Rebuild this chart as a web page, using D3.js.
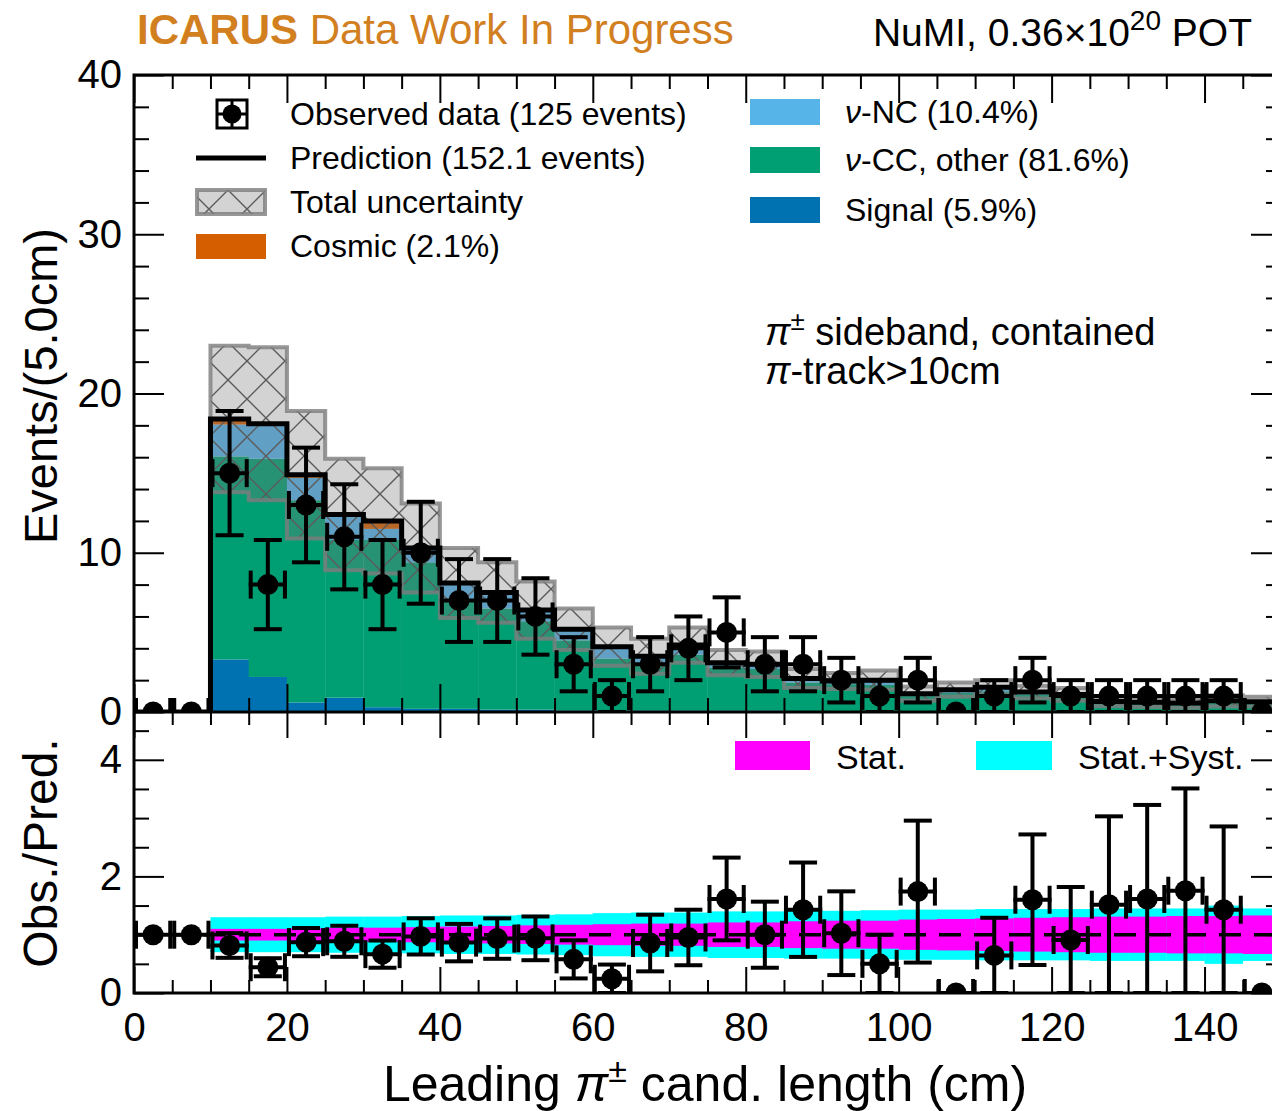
<!DOCTYPE html>
<html>
<head>
<meta charset="utf-8">
<script src="https://cdn.jsdelivr.net/npm/d3@7"></script>
<style>
body { margin: 0; background: #fff; }
text { font-family: "Liberation Sans", Arial, Helvetica, sans-serif; }
</style>
</head>
<body>
<div id="chart"></div>
<script>
// bins of 5 cm
const binEdges = [0,5,10,15,20,25,30,35,40,45,50,55,60,65,70,75,80,85,90,95,100,105,110,115,120,125,130,135,140,145,150];

const observed = [0,0,15,8,13,11,8,10,7,7,6,3,1,3,4,5,3,3,2,1,2,0,1,2,1,1,1,1,1,0];
const obsErr   = [0,0,3.9,2.8,3.6,3.3,2.8,3.2,2.6,2.6,2.4,1.7,1,1.7,2,2.2,1.7,1.7,1.4,1,1.4,0,1,1.4,1,1,1,1,1,0];

// stacked prediction components (events per bin)
const signal  = [0,0,3.3,2.2,0.6,0.9,0.3,0.2,0.2,0.15,0.15,0.1,0.1,0.1,0.1,0.1,0.1,0.05,0.05,0.05,0.05,0.05,0.05,0.05,0.05,0.05,0.05,0.05,0.05,0.05];
const ccOther = [0,0,12.75,13.7,12.7,9.9,10.5,9.2,6.85,6.35,5.55,4.4,3.25,2.9,3.5,2.7,2.6,1.8,1.7,1.65,0.95,1.15,1.25,1.05,0.9,0.53,0.49,0.45,0.57,0.52];
const nc      = [0,0,2.0,2.2,1.4,1.6,0.7,0.9,1.0,1.0,0.6,0.7,0.7,0.5,0.5,0.3,0.3,0.2,0.2,0.3,0.15,0.2,0.2,0.15,0.15,0.08,0.08,0.07,0.08,0.08];
const cosmic  = [0,0,0.35,0,0.2,0,0.5,0,0.05,0,0.1,0,0.05,0,0.1,0,0,0.05,0,0,0,0,0.05,0,0,0,0,0,0,0];

// total uncertainty on the prediction (+/- events)
const totUnc  = [0,0,4.6,4.8,4.0,3.5,3.3,2.8,2.2,1.9,1.8,1.3,1.2,1.1,1.1,0.8,0.8,0.6,0.5,0.6,0.45,0.45,0.45,0.4,0.4,0.3,0.3,0.3,0.35,0.3];

// ratio panel bands (relative half widths)
const statRel = [0,0,0.10,0.10,0.11,0.12,0.12,0.13,0.14,0.15,0.16,0.17,0.18,0.19,0.19,0.21,0.21,0.23,0.24,0.24,0.26,0.27,0.28,0.29,0.30,0.31,0.31,0.32,0.32,0.33];
const totRel  = [0,0,0.30,0.30,0.30,0.31,0.31,0.32,0.33,0.33,0.34,0.35,0.37,0.38,0.38,0.40,0.40,0.41,0.41,0.42,0.43,0.43,0.44,0.44,0.44,0.45,0.45,0.45,0.5,0.45];

const yTicksTop = [0,10,20,30,40];
const yTicksRatio = [0,2,4];
const xTicks = [0,20,40,60,80,100,120,140];

const colors = { signal: '#0072B2', ccOther: '#009E73', nc: '#56B4E9', cosmic: '#D55E00' };

const w = 1272, h = 1111;
const svg = d3.select('#chart').append('svg')
              .attr('width', w)
              .attr('height', h);

const pLeft = 134, pRight = 1281, pTop = 75, pMid = 712, pBottom = 993;

const x = d3.scaleLinear().domain([0, 150]).range([pLeft, pRight]);
const y = d3.scaleLinear().domain([0, 40]).range([pMid, pTop]);
const yr = d3.scaleLinear().domain([0, 4.82]).range([pBottom, pMid]);

const nb = observed.length;
const bins = d3.range(nb).map(i => ({
    i: i,
    lo: binEdges[i],
    hi: binEdges[i + 1],
    c: (binEdges[i] + binEdges[i + 1]) / 2,
    signal: signal[i], ccOther: ccOther[i], nc: nc[i], cosmic: cosmic[i],
    obs: observed[i], err: obsErr[i]
}));
bins.forEach(b => { b.total = b.signal + b.ccOther + b.nc + b.cosmic; });

const defs = svg.append('defs');
defs.append('clipPath').attr('id', 'clipTop')
    .append('rect').attr('x', pLeft).attr('y', pTop).attr('width', pRight - pLeft).attr('height', pMid - pTop);
defs.append('clipPath').attr('id', 'clipBot')
    .append('rect').attr('x', pLeft).attr('y', pMid).attr('width', pRight - pLeft).attr('height', pBottom - pMid);
defs.append('pattern').attr('id', 'hatch')
    .attr('patternUnits', 'userSpaceOnUse')
    .attr('width', 38).attr('height', 38)
    .append('path')
    .attr('d', 'M0,0L38,38M38,0L0,38M-2,2L2,-2M36,40L40,36')
    .attr('stroke', '#5a5a5a').attr('stroke-width', 1.4);

// ---------------- top panel ----------------
const gTop = svg.append('g').attr('clip-path', 'url(#clipTop)');

const keys = ['signal', 'ccOther', 'nc', 'cosmic'];
const stacked = d3.stack().keys(keys)(bins);
stacked.forEach(layer => {
    gTop.selectAll(null)
        .data(layer)
        .enter()
        .append('rect')
        .attr('x', d => x(d.data.lo))
        .attr('width', d => x(d.data.hi) - x(d.data.lo) + 0.3)
        .attr('y', d => y(d[1]))
        .attr('height', d => Math.max(0, y(d[0]) - y(d[1])))
        .style('fill', colors[layer.key]);
});

// uncertainty band as step polygon
const bandBins = bins.filter(b => b.total > 0);
const bandPts = [];
bandBins.forEach(b => { bandPts.push([x(b.lo), y(b.total + totUnc[b.i])], [x(b.hi), y(b.total + totUnc[b.i])]); });
bandBins.slice().reverse().forEach(b => { bandPts.push([x(b.hi), y(b.total - totUnc[b.i])], [x(b.lo), y(b.total - totUnc[b.i])]); });
const poly = d3.line()(bandPts) + 'Z';
gTop.append('path').attr('d', poly).style('fill', 'rgba(120,120,120,0.33)');
gTop.append('path').attr('d', poly).style('fill', 'url(#hatch)');
gTop.append('path').attr('d', poly).style('fill', 'none')
    .style('stroke', 'rgba(125,125,125,0.8)').style('stroke-width', 4);

// prediction line
const predPts = [[x(0), y(0)]];
bins.forEach(b => { predPts.push([x(b.lo), y(b.total)], [x(b.hi), y(b.total)]); });
gTop.append('path').attr('d', d3.line()(predPts))
    .style('fill', 'none').style('stroke', '#000').style('stroke-width', 5)
    .style('stroke-linejoin', 'miter');

function drawPoints(g, data, yScale, valFn, errFn) {
    const cap = 14;
    data.forEach(b => {
        const cx = x(b.c), cy = yScale(valFn(b)), e = errFn(b);
        const gp = g.append('g').style('stroke', '#000').style('stroke-width', 4);
        // horizontal bar with end caps
        gp.append('line').attr('x1', x(b.lo)).attr('x2', x(b.hi)).attr('y1', cy).attr('y2', cy);
        gp.append('line').attr('x1', x(b.lo) + 2).attr('x2', x(b.lo) + 2).attr('y1', cy - cap).attr('y2', cy + cap);
        gp.append('line').attr('x1', x(b.hi) - 2).attr('x2', x(b.hi) - 2).attr('y1', cy - cap).attr('y2', cy + cap);
        if (e > 0) {
            const y1 = yScale(valFn(b) - e), y2 = yScale(valFn(b) + e);
            gp.append('line').attr('x1', cx).attr('x2', cx).attr('y1', y1).attr('y2', y2);
            gp.append('line').attr('x1', cx - cap).attr('x2', cx + cap).attr('y1', y1).attr('y2', y1);
            gp.append('line').attr('x1', cx - cap).attr('x2', cx + cap).attr('y1', y2).attr('y2', y2);
        }
        g.append('circle').attr('cx', cx).attr('cy', cy).attr('r', 10.5).style('fill', '#000');
    });
}
drawPoints(gTop, bins, y, b => b.obs, b => b.err);

// ---------------- ratio panel ----------------
const gBot = svg.append('g').attr('clip-path', 'url(#clipBot)');
const ratioBins = bins.filter(b => b.total > 0);
gBot.selectAll('rect.tot')
    .data(ratioBins)
    .enter()
    .append('rect')
    .attr('class', 'tot')
    .attr('x', d => x(d.lo))
    .attr('width', d => x(d.hi) - x(d.lo) + 0.3)
    .attr('y', d => yr(1 + totRel[d.i]))
    .attr('height', d => yr(1 - totRel[d.i]) - yr(1 + totRel[d.i]))
    .style('fill', '#00FFFF');
gBot.selectAll('rect.stat')
    .data(ratioBins)
    .enter()
    .append('rect')
    .attr('class', 'stat')
    .attr('x', d => x(d.lo))
    .attr('width', d => x(d.hi) - x(d.lo) + 0.3)
    .attr('y', d => yr(1 + statRel[d.i]))
    .attr('height', d => yr(1 - statRel[d.i]) - yr(1 + statRel[d.i]))
    .style('fill', '#FF00FF');
gBot.append('line')
    .attr('x1', x(0)).attr('x2', x(150)).attr('y1', yr(1)).attr('y2', yr(1))
    .style('stroke', '#000').style('stroke-width', 3.5).style('stroke-dasharray', '22,13');

drawPoints(gBot, bins, yr,
    b => b.total > 0 ? b.obs / b.total : 1,
    b => b.total > 0 ? b.err / b.total : 0);

// ---------------- axes & frames ----------------
function styleAxis(g) {
    g.select('.domain').remove();
    g.selectAll('.tick line').style('stroke', '#000').style('stroke-width', 2);
    g.selectAll('.tick text').style('font-size', '40px').style('fill', '#000')
        .style('font-family', '"Liberation Sans", Arial, sans-serif');
}
const minorX = d3.range(0, 151, 5);
[[pMid, 'bottom'], [pTop, 'top'], [pMid, 'top2'], [pBottom, 'bottom2']].forEach(([yy, kind]) => {
    const up = (kind === 'bottom' || kind === 'bottom2');
    const ax = up ? d3.axisBottom : d3.axisTop;
    const len = kind === 'bottom2' || kind === 'top2' ? 26 : 28;
    svg.append('g').attr('transform', `translate(0,${yy})`)
       .call(ax(x).tickValues(minorX.filter(v => v % 20 !== 0)).tickSizeInner(-len / 2).tickSizeOuter(0).tickFormat(''))
       .call(styleAxis);
    svg.append('g').attr('transform', `translate(0,${yy})`)
       .call(ax(x).tickValues(xTicks).tickSizeInner(-len).tickSizeOuter(0).tickPadding(20)
                 .tickFormat(kind === 'bottom2' ? d3.format('d') : ''))
       .call(styleAxis);
});

function yAxes(scale, majors, minors) {
    [[pLeft, d3.axisLeft, true], [pRight, d3.axisRight, false]].forEach(([xx, ax, lab]) => {
        svg.append('g').attr('transform', `translate(${xx},0)`)
           .call(ax(scale).tickValues(minors).tickSizeInner(-15).tickSizeOuter(0).tickFormat(''))
           .call(styleAxis);
        svg.append('g').attr('transform', `translate(${xx},0)`)
           .call(ax(scale).tickValues(majors).tickSizeInner(-30).tickSizeOuter(0).tickPadding(12)
                    .tickFormat(lab ? d3.format('d') : ''))
           .call(styleAxis);
    });
}
yAxes(y, yTicksTop, d3.range(0, 41, 2).filter(v => v % 10 !== 0));
yAxes(yr, yTicksRatio, [0.5, 1, 1.5, 2.5, 3, 3.5, 4.5]);

svg.append('rect').attr('x', pLeft).attr('y', pTop).attr('width', pRight - pLeft).attr('height', pBottom - pTop)
   .style('fill', 'none').style('stroke', '#000').style('stroke-width', 3);
svg.append('line').attr('x1', pLeft).attr('x2', pRight).attr('y1', pMid).attr('y2', pMid)
   .style('stroke', '#000').style('stroke-width', 3);

// ---------------- legends ----------------
function legText(xx, yy, str, size) {
    return svg.append('text').attr('x', xx).attr('y', yy).attr('dy', '0.35em')
              .style('font-size', size || '32px').style('fill', '#000').text(str);
}
// data marker
const lm = svg.append('g').style('stroke', '#000').style('stroke-width', 3);
lm.append('rect').attr('x', 217).attr('y', 100).attr('width', 30).attr('height', 28).style('fill', 'none');
lm.append('line').attr('x1', 232).attr('x2', 232).attr('y1', 100).attr('y2', 128);
lm.append('line').attr('x1', 217).attr('x2', 247).attr('y1', 114).attr('y2', 114);
svg.append('circle').attr('cx', 232).attr('cy', 114).attr('r', 9.5).style('fill', '#000');
legText(290, 114, 'Observed data (125 events)');

svg.append('line').attr('x1', 196).attr('x2', 266).attr('y1', 158).attr('y2', 158)
   .style('stroke', '#000').style('stroke-width', 5);
legText(290, 158, 'Prediction (152.1 events)');

['rgba(120,120,120,0.33)', 'url(#hatch)'].forEach(f => {
    svg.append('rect').attr('x', 197).attr('y', 190).attr('width', 68).attr('height', 24).style('fill', f);
});
svg.append('rect').attr('x', 197).attr('y', 190).attr('width', 68).attr('height', 24)
   .style('fill', 'none').style('stroke', 'rgba(125,125,125,0.8)').style('stroke-width', 4);
legText(290, 202, 'Total uncertainty');

svg.append('rect').attr('x', 196).attr('y', 234).attr('width', 70).attr('height', 25).style('fill', colors.cosmic);
legText(290, 246, 'Cosmic (2.1%)');

const rightLeg = [['nc', '\u03bd-NC (10.4%)', 112], ['ccOther', '\u03bd-CC, other (81.6%)', 160], ['signal', 'Signal (5.9%)', 210]];
rightLeg.forEach(([k, label, yy]) => {
    svg.append('rect').attr('x', 750).attr('y', yy - 13).attr('width', 70).attr('height', 26).style('fill', colors[k]);
    const t = legText(845, yy, '');
    if (label.startsWith('\u03bd')) {
        t.append('tspan').style('font-style', 'italic').text('\u03bd');
        t.append('tspan').text(label.slice(1));
    } else {
        t.text(label);
    }
});

// ratio legend
svg.append('rect').attr('x', 735).attr('y', 741).attr('width', 75).attr('height', 29).style('fill', '#FF00FF');
legText(836, 757, 'Stat.', '34px');
svg.append('rect').attr('x', 976).attr('y', 741).attr('width', 76).attr('height', 29).style('fill', '#00FFFF');
legText(1078, 757, 'Stat.+Syst.', '34px');

// ---------------- annotations ----------------
const ann1 = svg.append('text').attr('x', 765).attr('y', 345).style('font-size', '38px');
ann1.append('tspan').style('font-style', 'italic').text('\u03c0');
ann1.append('tspan').attr('dy', -15).style('font-size', '26px').text('\u00b1');
ann1.append('tspan').attr('dy', 15).text(' sideband, contained');
const ann2 = svg.append('text').attr('x', 765).attr('y', 384).style('font-size', '38px');
ann2.append('tspan').style('font-style', 'italic').text('\u03c0');
ann2.append('tspan').text('-track>10cm');

const title = svg.append('text').attr('x', 137).attr('y', 44).style('font-size', '42px').style('fill', '#D2801F');
title.append('tspan').style('font-weight', 'bold').text('ICARUS');
title.append('tspan').text(' Data Work In Progress');

const pot = svg.append('text').attr('x', 1252).attr('y', 46).attr('text-anchor', 'end').style('font-size', '39px');
pot.append('tspan').text('NuMI, 0.36\u00d710');
pot.append('tspan').attr('dy', -16).style('font-size', '28px').text('20');
pot.append('tspan').attr('dy', 16).text(' POT');

// axis titles
svg.append('text').attr('transform', 'translate(57,386) rotate(-90)').attr('text-anchor', 'middle')
   .style('font-size', '47px').text('Events/(5.0cm)');
svg.append('text').attr('transform', 'translate(57,853) rotate(-90)').attr('text-anchor', 'middle')
   .style('font-size', '48px').text('Obs./Pred.');
const xt = svg.append('text').attr('x', 705).attr('y', 1101).attr('text-anchor', 'middle').style('font-size', '50px');
xt.append('tspan').text('Leading ');
xt.append('tspan').style('font-style', 'italic').text('\u03c0');
xt.append('tspan').attr('dy', -19).style('font-size', '34px').text('\u00b1');
xt.append('tspan').attr('dy', 19).text(' cand. length (cm)');
</script>
</body>
</html>
